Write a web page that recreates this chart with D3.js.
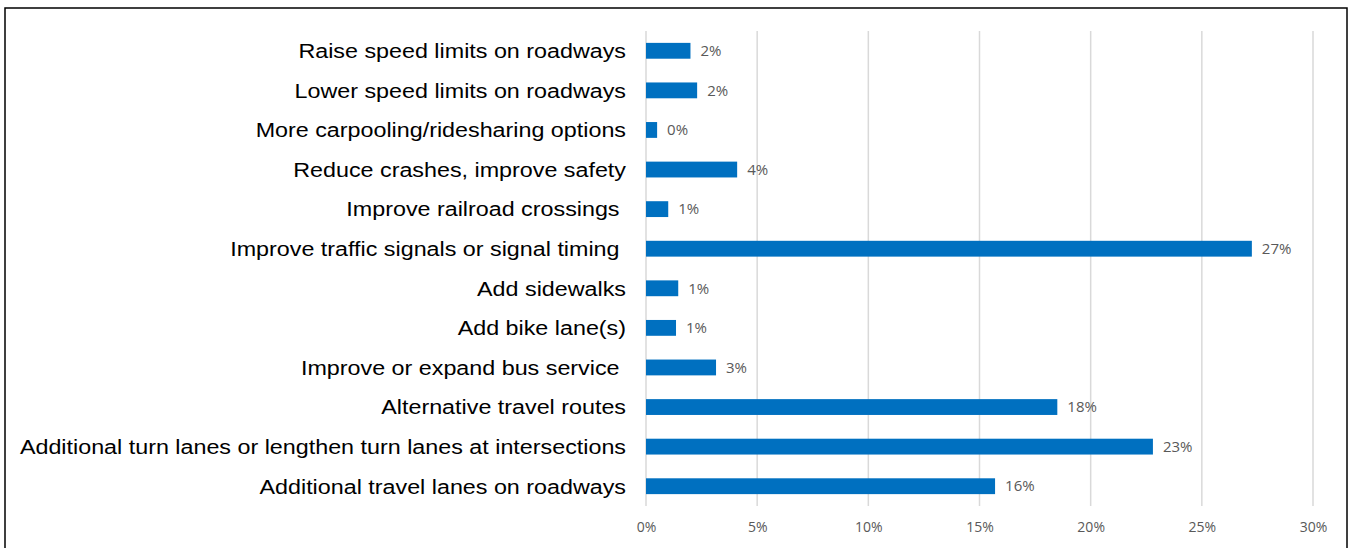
<!DOCTYPE html>
<html>
<head>
<meta charset="utf-8">
<script src="https://cdn.jsdelivr.net/npm/d3@7"></script>
<style>
  html, body { margin: 0; padding: 0; background: #fff; }
  svg { display: block; }
  .cat { font-family: "Liberation Sans", Arial, sans-serif; font-size: 21px; fill: #000; white-space: pre; }
  .val { font-family: "Open Sans", "Liberation Sans", sans-serif; font-size: 15px; fill: #595959; }
  .tick text { font-family: "Open Sans", "Liberation Sans", sans-serif; font-size: 14px; fill: #595959; }
</style>
</head>
<body>
<svg id="chart"></svg>
<script>
// categories top to bottom, values in percent
// (a few source labels carry a trailing space, kept as in the original)
const categories = [
  "Raise speed limits on roadways",
  "Lower speed limits on roadways",
  "More carpooling/ridesharing options",
  "Reduce crashes, improve safety",
  "Improve railroad crossings ",
  "Improve traffic signals or signal timing ",
  "Add sidewalks",
  "Add bike lane(s)",
  "Improve or expand bus service ",
  "Alternative travel routes",
  "Additional turn lanes or lengthen turn lanes at intersections",
  "Additional travel lanes on roadways"
];
const values = [2.0, 2.3, 0.5, 4.1, 1.0, 27.25, 1.45, 1.35, 3.15, 18.5, 22.8, 15.7];
const valueLabels = ["2%", "2%", "0%", "4%", "1%", "27%", "1%", "1%", "3%", "18%", "23%", "16%"];
const ticks = [0, 5, 10, 15, 20, 25, 30];

const W = 1352, H = 548;
const svg = d3.select("#chart").attr("width", W).attr("height", H);

// frame
svg.append("rect").attr("x", 5).attr("y", 8).attr("width", 1342).attr("height", 545)
  .attr("fill", "none").attr("stroke", "#000").attr("stroke-width", 1.5);

const x = d3.scaleLinear().domain([0, 30]).range([646, 1313]);
const y = d3.scaleBand().domain(categories).range([31, 506]).paddingInner(0.6).paddingOuter(0.3);

// gridlines
svg.append("g").selectAll("line").data(ticks).join("line")
  .attr("x1", (d) => x(d)).attr("x2", (d) => x(d))
  .attr("y1", 31).attr("y2", 506)
  .attr("stroke", "#d9d9d9").attr("stroke-width", 1.5);

// x axis labels
const ax = svg.append("g").attr("transform", "translate(0,506)")
  .call(d3.axisBottom(x).tickValues(ticks).tickFormat((d) => d + "%").tickSize(0).tickPadding(16));
ax.select(".domain").remove();

// bars
svg.append("g").selectAll("rect").data(values).join("rect")
  .attr("x", x(0))
  .attr("y", (d, i) => y(categories[i]))
  .attr("width", (d) => x(d) - x(0))
  .attr("height", y.bandwidth())
  .attr("fill", "#0070C0");

// value labels
svg.append("g").selectAll("text").data(values).join("text")
  .attr("class", "val")
  .attr("x", (d) => x(d) + 10)
  .attr("y", (d, i) => y(categories[i]) + y.bandwidth() / 2)
  .attr("dy", "0.35em")
  .text((d, i) => valueLabels[i]);

// category labels (reference text is a bit wider than Liberation Sans, so stretch horizontally)
const sx = 1.11;
svg.append("g").attr("transform", `translate(626,0) scale(${sx},1)`)
  .selectAll("text").data(categories).join("text")
  .attr("class", "cat")
  .attr("x", 0)
  .attr("y", (d) => y(d) + y.bandwidth() / 2)
  .attr("dy", "0.35em")
  .attr("text-anchor", "end")
  .text((d) => d);
</script>
</body>
</html>
